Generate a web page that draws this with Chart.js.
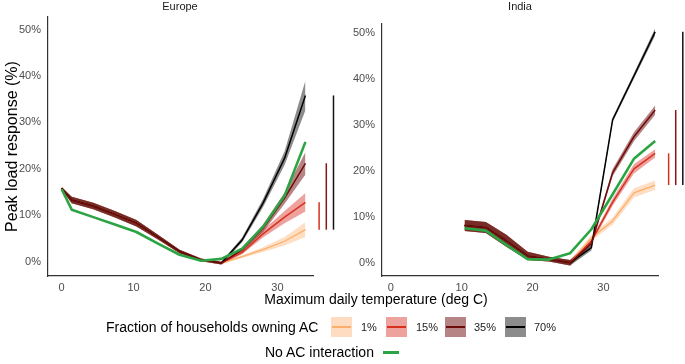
<!DOCTYPE html>
<html><head><meta charset="utf-8">
<script src="https://cdn.jsdelivr.net/npm/chart.js@4.4.1/dist/chart.umd.min.js"></script>
<style>
html,body{margin:0;padding:0;background:#fff;}
body{width:685px;height:364px;position:relative;overflow:hidden;font-family:"Liberation Sans",Arial,sans-serif;}
.box{position:absolute;}
.txt{position:absolute;white-space:nowrap;color:#000;line-height:16px;}
.sw{position:absolute;width:21px;height:20px;}
.sw i{position:absolute;left:1px;right:1px;top:9px;height:2px;display:block;}
</style></head><body>
<div class="box" style="left:0;top:0;width:340px;height:296px"><canvas id="eu"></canvas></div>
<div class="box" style="left:340px;top:0;width:345px;height:296px"><canvas id="ind"></canvas></div>

<div class="txt" style="left:180px;top:0;font-size:11px;line-height:13px;color:#1a1a1a;transform:translateX(-50%)">Europe</div>
<div class="txt" style="left:520px;top:0;font-size:11px;line-height:13px;color:#1a1a1a;transform:translateX(-50%)">India</div>
<div class="txt" style="left:376px;top:291px;font-size:14px;transform:translateX(-50%)">Maximum daily temperature (deg C)</div>

<div class="txt" style="left:106px;top:319px;font-size:14px">Fraction of households owning AC</div>
<div class="sw" style="left:331px;top:317px;background:#fedcc2"><i style="background:#fdae6b"></i></div>
<div class="txt" style="left:361px;top:319px;font-size:11px;color:#222">1%</div>
<div class="sw" style="left:386px;top:317px;background:#eda29e"><i style="background:#d7301f"></i></div>
<div class="txt" style="left:416px;top:319px;font-size:11px;color:#222">15%</div>
<div class="sw" style="left:445px;top:317px;background:#b68484"><i style="background:#6e0b0b"></i></div>
<div class="txt" style="left:474px;top:319px;font-size:11px;color:#222">35%</div>
<div class="sw" style="left:505px;top:317px;background:#8c8c8c"><i style="background:#000"></i></div>
<div class="txt" style="left:534px;top:319px;font-size:11px;color:#222">70%</div>

<div class="txt" style="left:265px;top:344px;font-size:14px">No AC interaction</div>
<div class="box" style="left:383px;top:351px;width:16px;height:3px;background:#2ca444"></div>

<script>
// ---------- data ----------
const xTickValues = [0, 10, 20, 30];
const yTickValues = [0, 10, 20, 30, 40, 50];

// Europe
const euTemp = [0, 1.4, 4.4, 7.4, 10.4, 13.4, 16.4, 19.4, 22.2, 25.1, 28.0, 31.0, 33.9];
const euNoAC = [15.6, 11.2, 9.6, 8.0, 6.4, 3.9, 1.5, 0.2, 0.6, 2.8, 7.5, 14.2, 25.8];
const euAC1  = [15.8, 13.3, 12.0, 10.2, 8.3, 5.3, 2.2, 0.4, -0.3, 1.1, 2.6, 4.4, 6.9];
const euAC15 = [15.8, 13.3, 12.0, 10.2, 8.3, 5.3, 2.2, 0.4, -0.3, 2.0, 6.0, 9.6, 12.8];
const euAC35 = [15.8, 13.3, 12.0, 10.2, 8.3, 5.3, 2.2, 0.4, -0.3, 2.6, 7.2, 13.7, 21.2];
const euAC70 = [15.8, 13.3, 12.0, 10.2, 8.3, 5.3, 2.2, 0.4, -0.3, 4.7, 12.6, 22.3, 35.8];
const euCI1  = [0.3, 0.7, 0.7, 0.7, 0.7, 0.5, 0.4, 0.3, 0.3, 0.3, 0.5, 0.9, 1.6];
const euCI15 = [0.3, 0.7, 0.7, 0.7, 0.7, 0.5, 0.4, 0.3, 0.3, 0.4, 0.8, 1.3, 2.0];
const euCI35 = [0.3, 0.7, 0.7, 0.7, 0.7, 0.5, 0.4, 0.3, 0.3, 0.4, 0.8, 1.2, 2.4];
const euCI70 = [0.3, 0.7, 0.7, 0.7, 0.7, 0.5, 0.4, 0.3, 0.3, 0.5, 0.9, 1.5, 3.2];

// India
const inTemp = [10.4, 13.4, 16.3, 19.3, 22.3, 25.3, 28.3, 31.3, 34.3, 37.3];
const inNoAC = [7.6, 7.1, 4.0, 0.9, 0.8, 2.2, 7.4, 15.0, 22.7, 26.6];
const inAC1  = [8.2, 7.8, 4.9, 1.6, 0.9, 0.1, 5.5, 9.2, 15.3, 17.0];
const inAC15 = [8.2, 7.8, 4.9, 1.6, 0.9, 0.1, 4.8, 13.3, 20.5, 23.9];
const inAC35 = [8.2, 7.8, 4.9, 1.6, 0.9, 0.1, 4.3, 19.7, 27.5, 33.3];
const inAC70 = [8.2, 7.8, 4.9, 1.6, 0.9, 0.1, 3.4, 31.2, 40.7, 50.3];
const inCI1  = [1.2, 1.2, 1.3, 0.9, 0.5, 0.6, 0.6, 0.8, 1.0, 1.0];
const inCI15 = [1.2, 1.2, 1.3, 0.9, 0.5, 0.6, 0.5, 0.8, 1.0, 0.9];
const inCI35 = [1.2, 1.2, 1.3, 0.9, 0.5, 0.6, 0.5, 0.8, 1.0, 1.0];
const inCI70 = [1.2, 1.2, 1.3, 0.9, 0.5, 0.6, 0.6, 0.5, 0.6, 0.8];

// ---------- styles ----------
const FONT = "'Liberation Sans', Arial, sans-serif";
Chart.defaults.font.family = FONT;
const ST = {
  ac1:  {line:'#fdae6b', fill:'rgba(253,174,107,0.40)', w:1.3},
  ac15: {line:'#d7301f', fill:'rgba(215,48,39,0.45)',  w:1.5},
  ac35: {line:'#6e0b0b', fill:'rgba(110,10,10,0.50)',  w:1.5},
  ac70: {line:'#000000', fill:'rgba(0,0,0,0.45)',      w:1.5},
  noac: {line:'#2ca444', w:2.6},
  bar15:'#d7301f', bar35:'#8b1414', bar70:'#111111'
};
const BAR_OFFSETS = [1.9, 2.9, 3.9];

function pts(xs, ys) { return xs.map((x, i) => ({x, y: ys[i]})); }
function lineDS(xs, ys, st) {
  return {data: pts(xs, ys), borderColor: st.line, borderWidth: st.w, fill: false,
          pointRadius: 0, tension: 0, borderJoinStyle: 'round'};
}
function ribbonDS(xs, ys, ci, st) {
  return [
    {data: xs.map((x, i) => ({x, y: ys[i] - ci[i]})), borderWidth: 0, pointRadius: 0, fill: false, tension: 0},
    {data: xs.map((x, i) => ({x, y: ys[i] + ci[i]})), borderWidth: 0, pointRadius: 0, fill: '-1',
     backgroundColor: st.fill, tension: 0}
  ];
}
function barDS(x, lo, hi, color) {
  return {data: [{x, y: lo}, {x, y: hi}], borderColor: color, borderWidth: 1.5,
          pointRadius: 0, fill: false, clip: false};
}
function buildDatasets(xs, noac, a1, a15, a35, a70, c1, c15, c35, c70) {
  const n = xs.length - 1, xe = xs[n];
  return [
    lineDS(xs, noac, ST.noac),
    lineDS(xs, a35, ST.ac35),
    lineDS(xs, a70, ST.ac70),
    lineDS(xs, a15, ST.ac15),
    lineDS(xs, a1, ST.ac1),
    barDS(xe + BAR_OFFSETS[0], a1[n], a15[n], ST.bar15),
    barDS(xe + BAR_OFFSETS[1], a1[n], a35[n], ST.bar35),
    barDS(xe + BAR_OFFSETS[2], a1[n], a70[n], ST.bar70),
    ...ribbonDS(xs, a35, c35, ST.ac35),
    ...ribbonDS(xs, a70, c70, ST.ac70),
    ...ribbonDS(xs, a15, c15, ST.ac15),
    ...ribbonDS(xs, a1, c1, ST.ac1)
  ];
}

function makeChart(id, datasets, o) {
  return new Chart(document.getElementById(id), {
    type: 'line',
    data: {datasets},
    options: {
      responsive: true, maintainAspectRatio: false, animation: false, devicePixelRatio: 1,
      layout: {padding: {top: o.padTop, right: o.padRight, left: 0, bottom: 0}},
      plugins: {legend: {display: false}, tooltip: {enabled: false}, title: {display: false}},
      elements: {point: {radius: 0}},
      scales: {
        x: {
          type: 'linear', min: o.xmin, max: o.xmax,
          grid: {display: false, drawTicks: false},
          border: {display: true, color: '#333', width: 1.2},
          ticks: {font: {size: 11}, color: '#4d4d4d', padding: 5, maxRotation: 0},
          afterBuildTicks: s => { s.ticks = xTickValues.map(v => ({value: v})); },
          afterFit: s => { s.height = 20; }
        },
        y: {
          type: 'linear', min: o.ymin, max: o.ymax,
          grid: {display: false, drawTicks: false},
          border: {display: true, color: '#333', width: 1.2},
          ticks: {font: {size: 11}, color: '#4d4d4d', padding: 7, callback: v => v + '%'},
          afterBuildTicks: s => { s.ticks = yTickValues.map(v => ({value: v})); },
          afterFit: s => { s.width = o.yw; },
          title: {display: o.ytitle, text: 'Peak load response (%)', color: '#000',
                  font: {size: 16}, padding: {top: 3, bottom: 0}}
        }
      }
    }
  });
}

makeChart('eu',
  buildDatasets(euTemp, euNoAC, euAC1, euAC15, euAC35, euAC70, euCI1, euCI15, euCI35, euCI70),
  {padTop: 17, padRight: 27, xmin: -1.9, xmax: 34.95, ymin: -3.08, ymax: 52.7, yw: 48, ytitle: true});
makeChart('ind',
  buildDatasets(inTemp, inNoAC, inAC1, inAC15, inAC35, inAC70, inCI1, inCI15, inCI35, inCI70),
  {padTop: 24, padRight: 27, xmin: -1.25, xmax: 37.7, ymin: -2.76, ymax: 52.0, yw: 42, ytitle: false});
</script>
</body></html>
